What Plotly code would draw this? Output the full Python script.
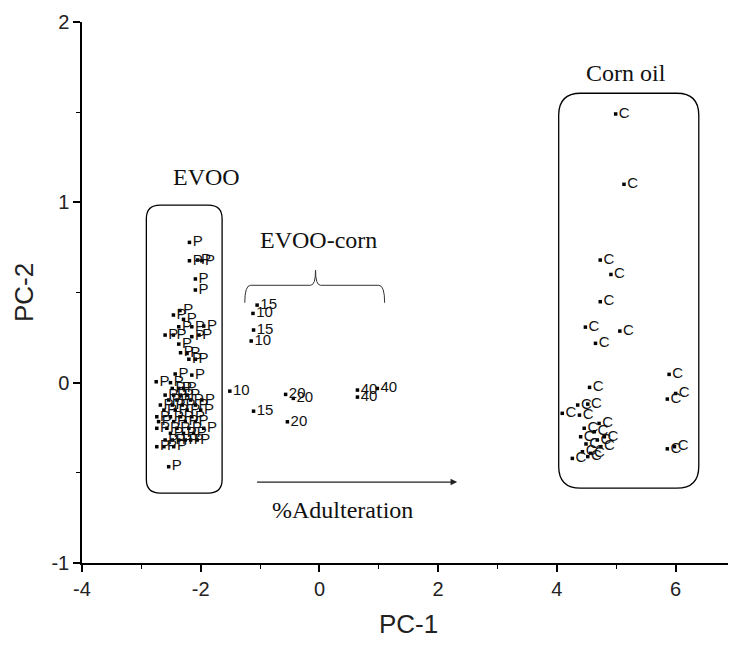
import plotly.graph_objects as go

# ---- data (PC-1, PC-2 scores) ----
evoo_x = [-2.19, -2.19, -2.05, -1.98, -2.09, -2.09,
          -2.46, -2.35, -2.29, -2.37, -2.15, -1.95,
          -2.60, -2.46, -2.15, -2.03, -2.37, -2.34, -2.23, -2.20, -2.09,
          -2.43, -2.75, -2.51, -2.15,
          -2.48, -2.37, -2.29,
          -2.60, -2.455, -2.34, -2.23,
          -2.54, -2.40, -2.17, -1.98,
          -2.68, -2.48, -2.31, -2.09,
          -2.62, -2.43, -2.23, -2.00,
          -2.74, -2.51, -2.34, -2.15,
          -2.71, -2.455, -2.26, -2.09,
          -2.74, -2.57, -2.40, -2.20, -1.95,
          -2.51, -2.29, -2.12,
          -2.60, -2.48, -2.37, -2.26, -2.17, -2.06,
          -2.74, -2.62, -2.455,
          -2.54]
evoo_y = [0.778, 0.676, 0.68, 0.676, 0.575, 0.514,
          0.375, 0.40, 0.351, 0.31, 0.31, 0.314,
          0.264, 0.264, 0.255, 0.264, 0.214, 0.166, 0.162, 0.13, 0.13,
          0.048, 0.005, 0.0, 0.042,
          -0.032, -0.032, -0.032,
          -0.069, -0.069, -0.069, -0.069,
          -0.096, -0.096, -0.096, -0.096,
          -0.124, -0.124, -0.124, -0.124,
          -0.152, -0.152, -0.152, -0.152,
          -0.189, -0.189, -0.189, -0.189,
          -0.216, -0.216, -0.216, -0.216,
          -0.253, -0.253, -0.253, -0.253, -0.253,
          -0.281, -0.281, -0.281,
          -0.318, -0.318, -0.318, -0.318, -0.318, -0.318,
          -0.355, -0.355, -0.355,
          -0.466]

mix_x = [-1.05, -1.12, -1.11, -1.15, -1.51, -1.11, -0.57, -0.44, -0.54, 0.64, 0.64, 0.975]
mix_y = [0.43, 0.384, 0.292, 0.231, -0.047, -0.158, -0.065, -0.087, -0.217, -0.041, -0.08, -0.032]
mix_lbl = ["15", "10", "15", "10", "10", "15", "20", "20", "20", "40", "40", "40"]

corn_x = [4.99, 5.13, 4.73, 4.91, 4.73, 4.48, 5.06, 4.65, 4.55, 5.89, 5.86, 6.00,
          5.86, 5.98, 4.35, 4.52, 4.09, 4.38, 4.46, 4.71, 4.40, 4.63, 4.49, 4.68,
          4.80, 4.43, 4.57, 4.26, 4.52, 4.74]
corn_y = [1.49, 1.10, 0.68, 0.60, 0.449, 0.308, 0.286, 0.218, -0.026, 0.046, -0.091, -0.06,
          -0.367, -0.355, -0.124, -0.119, -0.17, -0.18, -0.253, -0.226, -0.30, -0.272, -0.34, -0.318,
          -0.30, -0.383, -0.392, -0.42, -0.41, -0.355]

x_ticks = [-4, -2, 0, 2, 4, 6]
y_ticks = [-1, 0, 1, 2]

lab_font = dict(family="Liberation Sans, Arial", size=15, color="#111")
mk = dict(symbol="square", size=3.5, color="black")

fig = go.Figure()
fig.add_trace(go.Scatter(x=evoo_x, y=evoo_y, mode="markers+text", text=["P"] * len(evoo_x),
                         textposition="middle right", textfont=lab_font, marker=mk, hoverinfo="x+y"))
fig.add_trace(go.Scatter(x=mix_x, y=mix_y, mode="markers+text", text=mix_lbl,
                         textposition="middle right", textfont=lab_font, marker=mk, hoverinfo="x+y"))
fig.add_trace(go.Scatter(x=corn_x, y=corn_y, mode="markers+text", text=["C"] * len(corn_x),
                         textposition="middle right", textfont=lab_font, marker=mk, hoverinfo="x+y"))


def rrect(x0, x1, y0, y1, rx, ry):
    return (f"M {x0+rx},{y0} L {x1-rx},{y0} Q {x1},{y0} {x1},{y0+ry} "
            f"L {x1},{y1-ry} Q {x1},{y1} {x1-rx},{y1} L {x0+rx},{y1} "
            f"Q {x0},{y1} {x0},{y1-ry} L {x0},{y0+ry} Q {x0},{y0} {x0+rx},{y0} Z")


shapes = [
    dict(type="path", xref="x", yref="y", path=rrect(-2.916, -1.64, -0.612, 0.985, 0.23, 0.075),
         line=dict(color="black", width=1.3)),
    dict(type="path", xref="x", yref="y", path=rrect(4.03, 6.39, -0.585, 1.605, 0.37, 0.122),
         line=dict(color="black", width=1.3)),
    # brace above EVOO-corn points
    dict(type="path", xref="x", yref="y",
         path=("M -1.258,0.443 Q -1.258,0.540 -1.16,0.540 L -0.15,0.540 "
               "Q -0.066,0.540 -0.066,0.624 Q -0.066,0.540 0.018,0.540 "
               "L 1.00,0.540 Q 1.098,0.540 1.098,0.443"),
         line=dict(color="#333", width=1)),
]

ser = dict(family="Liberation Serif, Times New Roman", size=24, color="#111")
annotations = [
    dict(x=-1.90, y=1.14, text="EVOO", showarrow=False, font=ser),
    dict(x=-0.02, y=0.79, text="EVOO-corn", showarrow=False, font=ser),
    dict(x=5.16, y=1.717, text="Corn oil", showarrow=False, font=ser),
    dict(x=0.39, y=-0.707, text="%Adulteration", showarrow=False, font=ser),
    dict(x=2.32, y=-0.551, ax=-1.076, ay=-0.551, axref="x", ayref="y", xref="x", yref="y",
         text="", showarrow=True, arrowhead=2, arrowsize=1.1, arrowwidth=1.2, arrowcolor="#222"),
]

axis_common = dict(showline=True, linecolor="black", linewidth=1.5, ticks="outside",
                   ticklen=7, tickwidth=1.5, tickcolor="black", showgrid=False, zeroline=False,
                   tickfont=dict(family="Liberation Sans, Arial", size=20, color="#222"),
                   mirror=False, automargin=False)

# page body has an 8px default margin, so the figure is sized/offset to compensate
fig.update_layout(
    width=728, height=638,
    margin=dict(l=74, r=1, t=14, b=83),
    plot_bgcolor="white", paper_bgcolor="white",
    showlegend=False,
    shapes=shapes, annotations=annotations,
    xaxis=dict(range=[-4, 7], tickvals=x_ticks, ticktext=[str(v) for v in x_ticks],
               minor=dict(dtick=1, tick0=-4, ticks="outside", ticklen=4, tickwidth=1.3, tickcolor="black"),
               title=dict(text="PC-1", font=dict(family="Liberation Sans, Arial", size=26, color="#222"), standoff=16),
               **axis_common),
    yaxis=dict(range=[-1, 2], tickvals=y_ticks, ticktext=[str(v) for v in y_ticks],
               minor=dict(dtick=0.5, tick0=-1, ticks="outside", ticklen=4, tickwidth=1.3, tickcolor="black"),
               title=dict(text="PC-2", font=dict(family="Liberation Sans, Arial", size=26, color="#222"), standoff=10),
               **axis_common),
)

fig.write_html("out.html")
